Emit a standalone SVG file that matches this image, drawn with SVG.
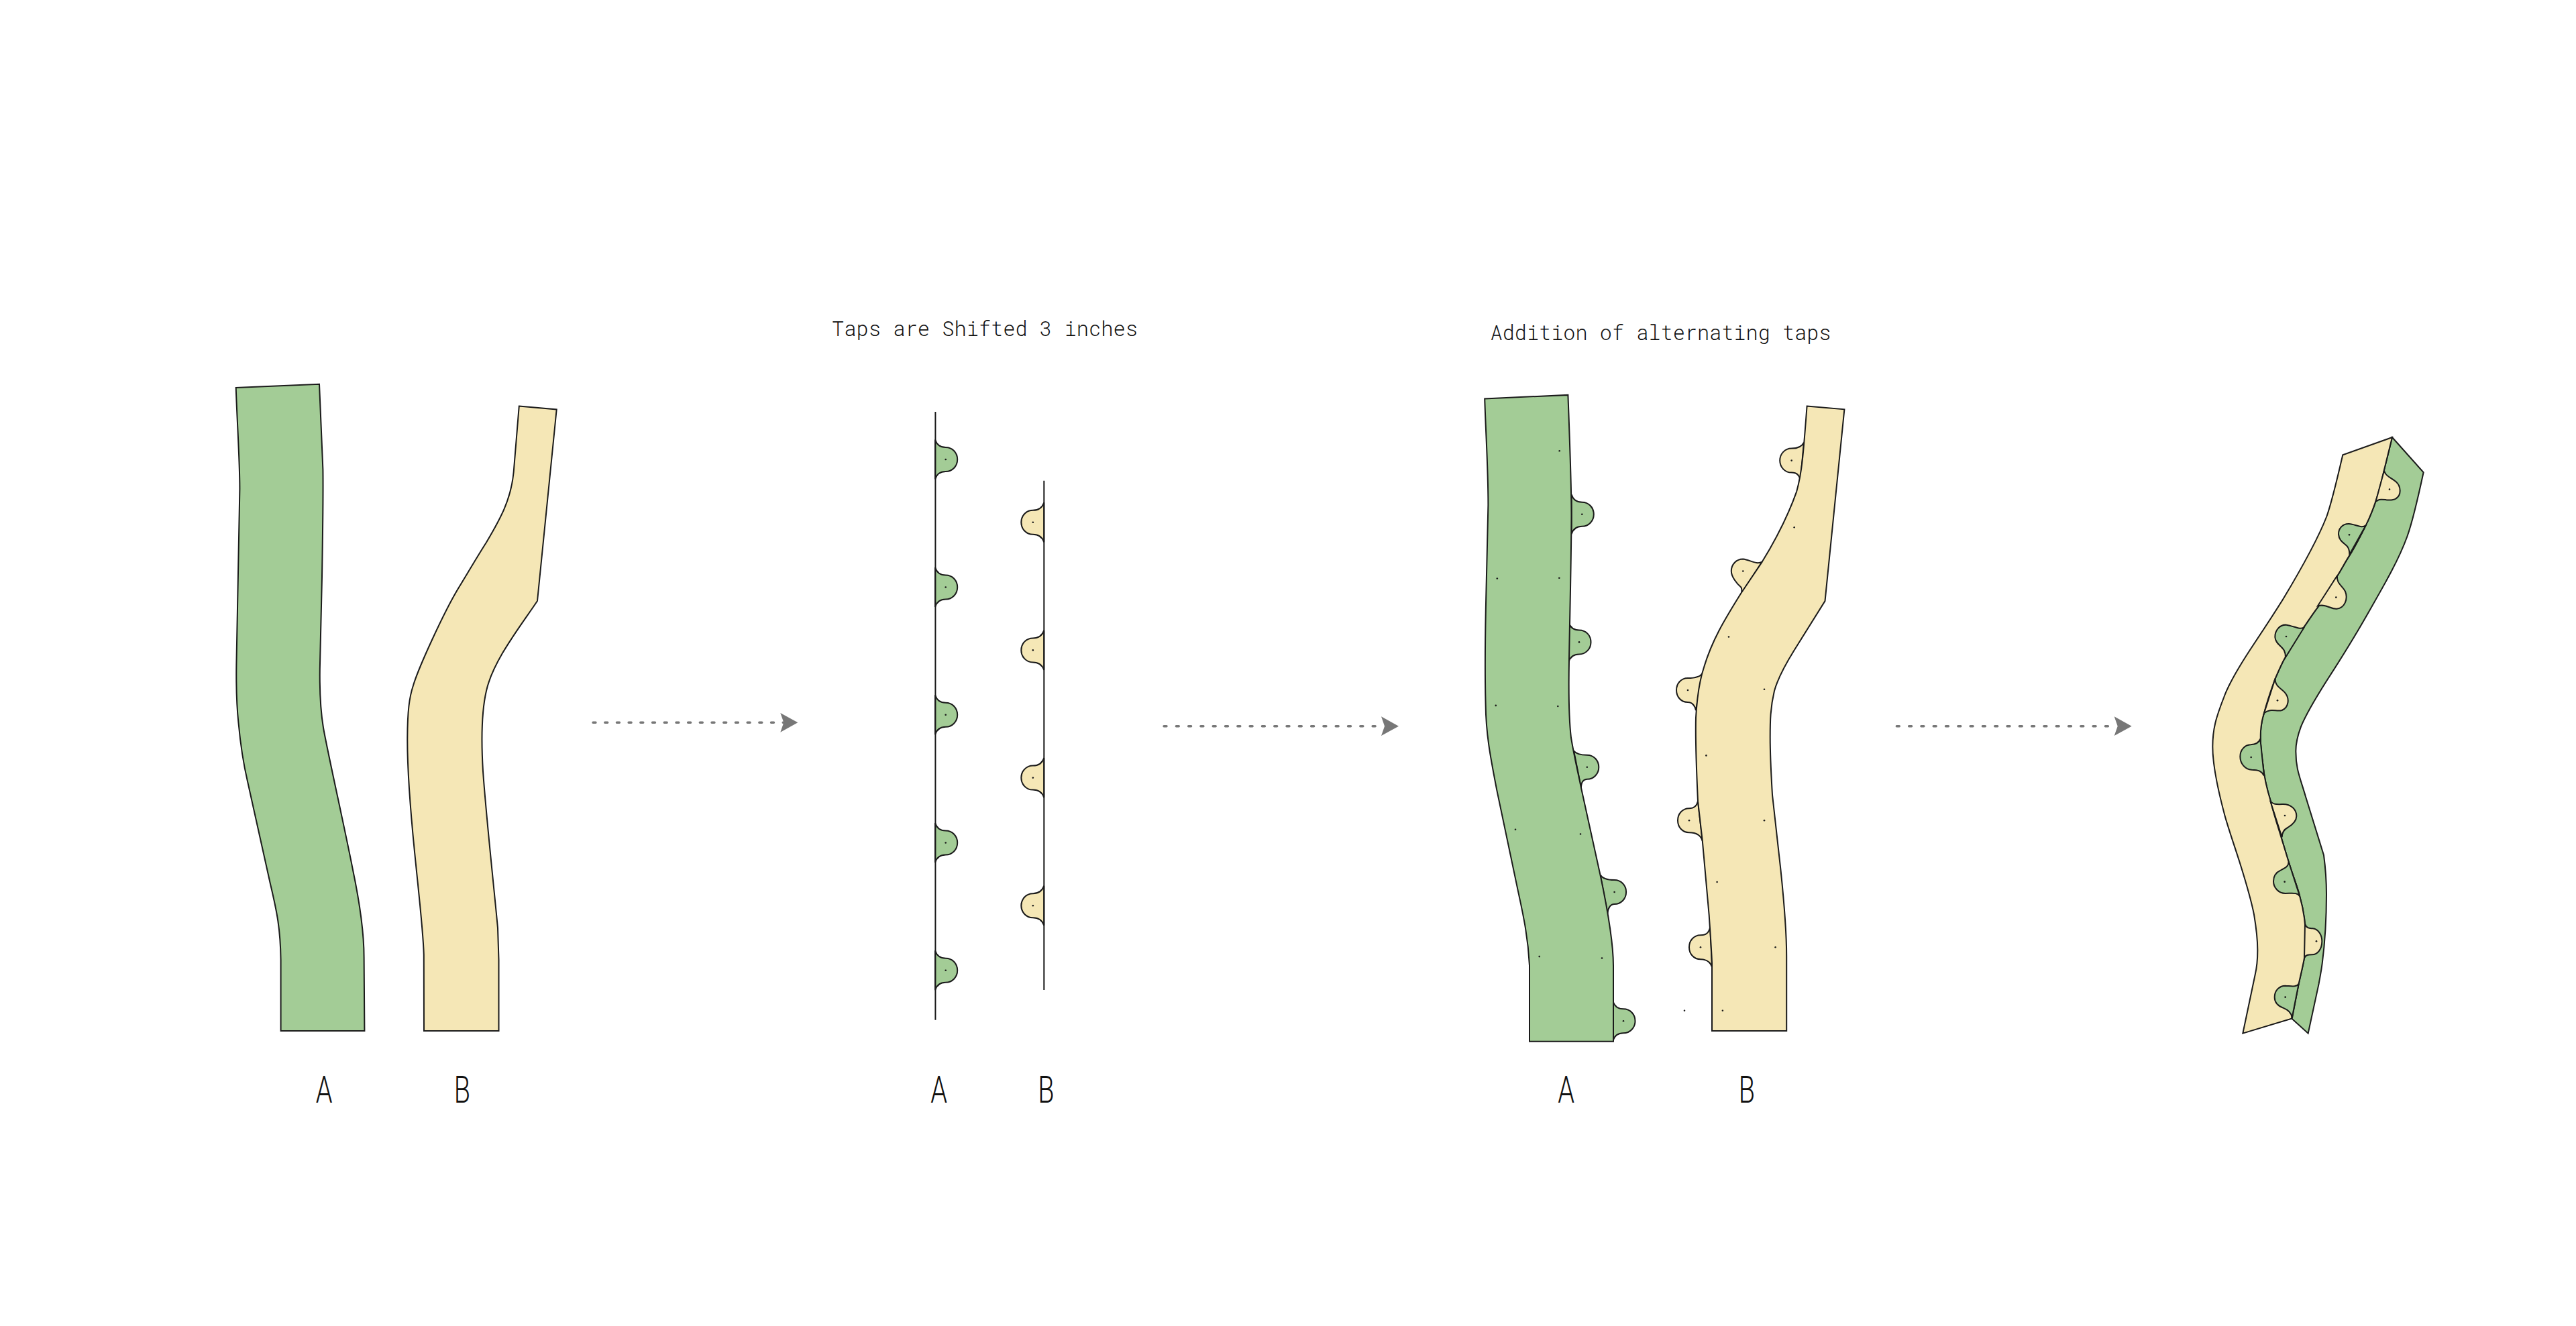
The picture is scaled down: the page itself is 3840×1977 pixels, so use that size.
<svg xmlns="http://www.w3.org/2000/svg" width="3840" height="1977" viewBox="0 0 3840 1977">
<style>
.g{fill:#a3cc96}.y{fill:#f5e7b6}
.o{stroke:#1a1a1a;stroke-width:2;stroke-linejoin:miter}
.w,.w path{stroke:#1a1a1a;stroke-width:2;stroke-linejoin:miter;vector-effect:non-scaling-stroke}
.l{stroke:#1a1a1a;stroke-width:2;fill:none}
.d{fill:#1a1a1a}
.lab{font-family:"Roboto","Liberation Sans",sans-serif;font-weight:300;font-size:55px;fill:#111;text-anchor:middle}
.cap{font-family:"Roboto Mono","Liberation Mono",monospace;font-weight:300;font-size:32px;fill:#111}
.arr{stroke:#777;stroke-width:3.4;stroke-linecap:round;fill:none;marker-end:url(#head)}
</style>
<defs>
<marker id="head" markerUnits="userSpaceOnUse" markerWidth="30" markerHeight="32" refX="5" refY="15" orient="auto" overflow="visible"><path d="M0,.6 L26,15 L0,29.4 L5,15 Z" fill="#777"/></marker>
<path id="tapR" d="M-15.7,-29.5 C-13,-21 -8,-18 0,-18 C10,-18 17.5,-10 17.5,0 C17.5,10 10,18 0,18 C-8,18 -13,21 -15.7,29.5 Z"/>
<path id="tapL" d="M16.5,-29.5 C13.5,-21 8,-18 0,-18 C-10,-18 -17.5,-10 -17.5,0 C-17.5,10 -10,18 0,18 C8,18 13.5,21 16.5,29.5 Z"/>
<circle id="dot" r="1.3"/>
</defs>
<rect width="3840" height="1977" fill="#fff"/>

<g id="strips-original">
<g id="strip-a-1">
<path class="g o" d="M351.7,578 L476,572.7 L481.4,700 C482,740 481,800 480,860 L476.8,998 C476.4,1030 477,1055 482,1085 C488,1120 515,1240 525.8,1296 C535,1340 542.6,1390 542.6,1427 L543.4,1537 L418.6,1537 L418.6,1431 C418,1385 413,1360 403,1318 L369,1165 C362,1135 358,1105 355.5,1078 C352.5,1050 352,1020 352.4,991 L357.4,729 C357.5,690 354,640 351.7,578 Z"/>
<text class="lab" transform="translate(483,1644) scale(.72,1)">A</text>
</g>
<g id="strip-b-1">
<path class="y o" d="M773.8,605.5 L829.7,610.5 L801,896 C775,935 735,985 725,1030 C718,1060 717,1100 720,1150 C725,1220 735,1310 742,1383.6 L743.5,1431 L743.5,1537 L632,1537 L631.8,1423.6 C631,1390 625,1340 618,1270 C612,1210 607,1150 607.3,1100 C607.5,1060 610,1040 616,1022 C624,995 661.7,913 682.7,878 C697,855 710,832 724.8,809 C745,775 762,745 765.7,703.6 Z"/>
<text class="lab" transform="translate(689,1644) scale(.72,1)">B</text>
</g>
</g>

<g id="connectors">
<path class="arr" stroke-dasharray="4 13.7" d="M884,1077.3 H1168.3"/>
<path class="arr" stroke-dasharray="4 14.3" d="M1735,1082.7 H2064"/>
<path class="arr" stroke-dasharray="4 14.3" d="M2827.3,1082.7 H3156.7"/>
</g>

<g id="taps-shifted">
<text class="cap" x="1240" y="501" textLength="456" lengthAdjust="spacingAndGlyphs">Taps are Shifted 3 inches</text>
<g id="line-a">
<g class="g o">
<use href="#tapR" x="1409.7" y="685"/><use href="#tapR" x="1409.7" y="875.5"/><use href="#tapR" x="1409.7" y="1065.7"/><use href="#tapR" x="1409.7" y="1256.5"/><use href="#tapR" x="1409.7" y="1446.7"/>
</g>
<path class="l" d="M1394.4,614 V1520.7"/>
<g class="d"><use href="#dot" x="1409.7" y="685"/><use href="#dot" x="1409.7" y="875.5"/><use href="#dot" x="1409.7" y="1065.7"/><use href="#dot" x="1409.7" y="1256.5"/><use href="#dot" x="1409.7" y="1446.7"/></g>
<text class="lab" transform="translate(1399.5,1644) scale(.72,1)">A</text>
</g>
<g id="line-b">
<g class="y o">
<use href="#tapL" x="1539.8" y="778.8"/><use href="#tapL" x="1539.8" y="969.4"/><use href="#tapL" x="1539.8" y="1159.6"/><use href="#tapL" x="1539.8" y="1350.2"/>
</g>
<path class="l" d="M1556.3,716.7 V1476"/>
<g class="d"><use href="#dot" x="1539.8" y="778.8"/><use href="#dot" x="1539.8" y="969.4"/><use href="#dot" x="1539.8" y="1159.6"/><use href="#dot" x="1539.8" y="1350.2"/></g>
<text class="lab" transform="translate(1559.5,1644) scale(.72,1)">B</text>
</g>
</g>

<g id="strips-alternating">
<text class="cap" x="2221.5" y="506.7" textLength="508" lengthAdjust="spacingAndGlyphs">Addition of alternating taps</text>
<g id="strip-a-3">
<g class="g o">
<use href="#tapR" x="2358.3" y="766.8"/>
<use href="#tapR" x="2354" y="957.4"/>
<path transform="translate(2365.8,1143.8)" d="M-19.8,-24.5 C-16,-19 -8,-18 0,-18 C10,-18 17.5,-10 17.5,0 C17.5,10 10,18 0,18 C-5,18 -9,22 -8.8,30.9 Z"/>
<path transform="translate(2406.6,1330)" d="M-21,-25.6 C-17,-19 -8,-18 0,-18 C10,-18 17.5,-10 17.5,0 C17.5,10 10,18 0,18 C-6,18 -10,24 -10.3,32.5 Z"/>
<use href="#tapR" x="2420" y="1522.2"/>
</g>
<path class="g o" d="M2213.2,594.4 L2337.4,588.9 C2340,660 2342.5,720 2342.5,770 C2342,850 2340,920 2339,985 C2338,1040 2339,1075 2342,1100 C2347,1130 2352,1150 2357,1174.7 L2385.6,1305 C2393,1340 2405,1400 2405,1440 L2405,1552.7 L2280,1552.7 L2280,1439.6 C2278,1400 2272,1370 2263,1328.9 L2231.4,1178.6 C2222,1130 2215,1095 2214.6,1050 C2213,990 2214,950 2215,900 L2218.4,752.6 C2218.4,700 2215,650 2213.2,594.4 Z"/>
<g class="d">
<use href="#dot" x="2358.3" y="766.8"/><use href="#dot" x="2354" y="957.4"/><use href="#dot" x="2365.8" y="1143.8"/><use href="#dot" x="2406.6" y="1330"/><use href="#dot" x="2420" y="1522.2"/>
<use href="#dot" x="2324.7" y="672.3"/><use href="#dot" x="2231.8" y="862.5"/><use href="#dot" x="2324.3" y="861.7"/><use href="#dot" x="2229.8" y="1051.9"/><use href="#dot" x="2322.3" y="1053"/><use href="#dot" x="2259" y="1236.8"/><use href="#dot" x="2356" y="1243.5"/><use href="#dot" x="2294.7" y="1426.1"/><use href="#dot" x="2388" y="1428.5"/>
</g>
<text class="lab" transform="translate(2334.5,1644) scale(.72,1)">A</text>
</g>
<g id="strip-b-3">
<g class="y o">
<path transform="translate(2670.7,686.6)" d="M18.3,-26.9 C15,-20 8,-18 0,-18 C-10,-18 -17.5,-10 -17.5,0 C-17.5,10 -10,18 0,18 C8,18 12,22 13.1,30.4 Z"/>
<path transform="translate(2598.3,851.5)" d="M28.5,-13.9 C20,-9 10,-17 0,-18 C-10,-18 -17.5,-10 -17.5,0 C-17.5,8 -10,18 -3,24 C-1,27 -2,30 -2.3,33.5 Z"/>
<path transform="translate(2516,1029)" d="M21.8,-25.3 C18,-19 8,-18 0,-18 C-10,-18 -17,-10 -17,0 C-17,10 -10,18 0,18 C7,18 11,24 12,30 Z"/>
<path transform="translate(2518,1223.3)" d="M13,-28.9 C11,-20 6,-18 0,-18 C-10,-18 -17,-10 -17,0 C-17,10 -10,18 0,18 C9,18 17,21 19.8,30.5 Z"/>
<path transform="translate(2535,1412.3)" d="M14.3,-30 C12,-20 7,-18 0,-18 C-10,-18 -17,-10 -17,0 C-17,10 -10,18 0,18 C8,18 14,21 17,29.3 Z"/>
</g>
<path class="y o" d="M2693.6,605.5 L2749.4,610.3 L2720.5,896.1 L2674.3,970 C2660,993 2650,1012 2645,1030 C2639,1055 2638.7,1075 2638.7,1099.5 C2638.7,1130 2640,1150 2642,1185 L2654.5,1297.2 C2660,1350 2663.2,1390 2663.2,1425.8 L2663.2,1536.9 L2552,1536.9 L2552,1435.6 C2551,1410 2549,1385 2547.7,1364.5 L2537.8,1253.8 L2531,1194.4 C2529,1150 2527,1110 2528,1070 C2530,1035 2535,1010 2540,995 C2552,955 2570,925 2595,885 L2626.8,837.6 C2645,808 2665,770 2678.2,732.8 C2686,705 2688,680 2693.6,605.5 Z"/>
<g class="d">
<use href="#dot" x="2670.7" y="686.6"/><use href="#dot" x="2598.3" y="851.5"/><use href="#dot" x="2516" y="1029"/><use href="#dot" x="2518" y="1223.3"/><use href="#dot" x="2535" y="1412.3"/>
<use href="#dot" x="2674.7" y="786.2"/><use href="#dot" x="2577" y="949.5"/><use href="#dot" x="2630" y="1027.8"/><use href="#dot" x="2543.4" y="1126.4"/><use href="#dot" x="2630" y="1223.3"/><use href="#dot" x="2559.6" y="1315"/><use href="#dot" x="2646.6" y="1412.3"/><use href="#dot" x="2567.9" y="1506.8"/><use href="#dot" x="2511" y="1506.8"/>
</g>
<text class="lab" transform="translate(2604,1644) scale(.72,1)">B</text>
</g>
</g>

<g id="strips-joined" transform="translate(3260,640) scale(.33333)">
<g id="strip-a-4">
<path class="g w" d="M918,36 L1058,193 C1035,300 1010,410 985,480 C945,590 880,700 800,840 C740,945 680,1040 625,1125 C590,1180 535,1270 510,1330 C495,1370 487,1400 487,1440 C487,1520 505,1555 530,1640 L612,1905 C618,1950 624,2010 624,2080 C624,2200 618,2290 605,2390 C600,2430 595,2450 590,2480 L542,2702 L470,2637 L500,2480 C518,2400 532,2350 532,2290 C532,2220 522,2150 505,2090 C490,2030 470,1990 455,1935 L420,1820 C400,1755 385,1710 375,1665 C355,1600 345,1560 340,1500 C330,1440 328,1390 330,1350 C332,1320 335,1300 345,1270 C360,1210 375,1170 395,1115 C410,1080 425,1045 440,1020 C470,970 495,925 520,890 C550,845 570,815 590,790 C620,745 645,700 670,660 C695,620 710,590 730,560 C755,520 780,470 800,430 C820,390 835,350 845,320 C860,275 870,235 880,190 Z"/>
</g>
<g id="strip-b-4">
<path class="y w" d="M918,36 L697,115 C672,220 650,320 625,390 C590,480 520,610 430,760 C380,840 340,900 300,960 C240,1050 190,1130 165,1200 C130,1290 115,1340 115,1420 C115,1500 135,1600 170,1730 C190,1800 215,1870 240,1950 C265,2030 290,2120 300,2170 C310,2230 316,2280 316,2330 C316,2370 312,2410 305,2440 L250,2702 L468,2636 L500,2480 C518,2400 532,2350 532,2290 C532,2220 522,2150 505,2090 C490,2030 470,1990 455,1935 L420,1820 C400,1755 385,1710 375,1665 C355,1600 345,1560 340,1500 C330,1440 328,1390 330,1350 C332,1320 335,1300 345,1270 C360,1210 375,1170 395,1115 C410,1080 425,1045 440,1020 C470,970 495,925 520,890 C550,845 570,815 590,790 C620,745 645,700 670,660 C695,620 710,590 730,560 C755,520 780,470 800,430 C820,390 835,350 845,320 C860,275 870,235 880,190 Z"/>
</g>
<g id="taps-4">
<g class="y w">
<path d="M882,185 C888,210 915,218 935,235 C958,255 960,295 935,310 C910,325 880,310 860,315 C852,318 848,322 845,322 Z"/>
<path d="M672,655 C668,690 695,700 708,725 C722,760 705,800 670,803 C640,805 625,780 585,790 Z"/>
<path d="M395,1115 C392,1150 425,1160 440,1180 C460,1205 455,1245 425,1257 C400,1265 375,1245 345,1270 Z"/>
<path d="M372,1660 C382,1680 405,1678 430,1677 C465,1677 490,1700 490,1730 C490,1755 470,1770 450,1782 C435,1790 425,1805 425,1825 Z"/>
<path d="M528,2212 C535,2235 550,2232 562,2233 C588,2235 604,2262 604,2290 C604,2325 585,2350 560,2350 C545,2350 530,2350 525,2365 Z"/>
</g>
<g class="g w">
<path d="M800,430 C780,445 755,425 725,423 C695,422 677,445 678,470 C680,500 705,510 718,525 C725,535 727,550 727,560 Z"/>
<path d="M525,885 C505,900 480,880 445,875 C415,873 393,900 394,930 C396,960 425,970 435,990 C440,1000 441,1010 441,1020 Z"/>
<path d="M328,1385 C322,1405 300,1410 285,1411 C258,1412 238,1435 238,1464 C238,1495 260,1522 290,1523 C320,1523 335,1530 345,1550 Z"/>
<path d="M455,1935 C455,1955 440,1962 420,1972 C398,1982 387,2000 387,2022 C387,2050 410,2076 440,2076 C470,2076 495,2070 505,2090 Z"/>
<path d="M500,2480 C490,2497 465,2490 440,2489 C412,2489 392,2512 392,2540 C392,2565 410,2580 430,2588 C455,2598 468,2610 470,2632 Z"/>
</g>
<g class="d">
<circle r="4" cx="906" cy="269"/><circle r="4" cx="726" cy="472"/><circle r="4" cx="667" cy="752"/><circle r="4" cx="444" cy="927"/><circle r="4" cx="405" cy="1213"/><circle r="4" cx="287" cy="1467"/><circle r="4" cx="438" cy="1728"/><circle r="4" cx="437" cy="2024"/><circle r="4" cx="579" cy="2290"/><circle r="4" cx="440" cy="2540"/>
</g>
</g>
</g>
</svg>
